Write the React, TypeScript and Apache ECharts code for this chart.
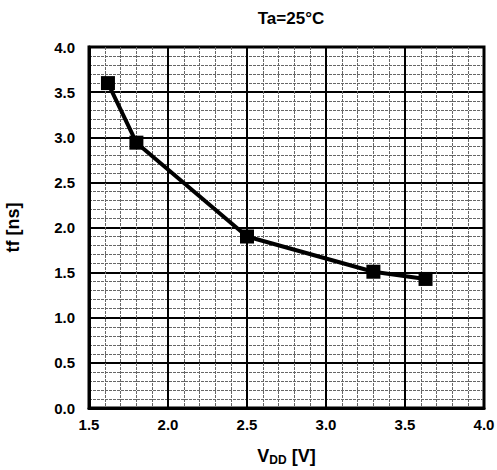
import React, { useEffect, useRef } from "react";
import * as echarts from "echarts";

const vdd = [1.62, 1.8, 2.5, 3.3, 3.63];
const tf = [3.6, 2.94, 1.9, 1.51, 1.43];
const titleText = "Ta=25°C";
const yName = "tf [ns]";

export default function App() {
  const ref = useRef<HTMLDivElement>(null);
  useEffect(() => {
    if (!ref.current) return;
    const chart = echarts.init(ref.current, null, { renderer: "svg" });
    const font = "'Liberation Sans', Arial, sans-serif";
    chart.setOption({
      animation: false,
      backgroundColor: "#fff",
      title: {
        text: titleText,
        left: 286,
        top: 5,
        textAlign: "center",
        textStyle: { fontFamily: font, fontWeight: "bold", fontSize: 17, color: "#000" },
      },
      grid: {
        left: 89,
        top: 47,
        right: 13,
        bottom: 62,
        containLabel: false,
        outerBoundsMode: "none",
        show: true,
        borderColor: "#000",
        borderWidth: 3,
        backgroundColor: "#fff",
      },
      xAxis: {
        type: "value",
        min: 1.5,
        max: 4.0,
        interval: 0.5,
        axisLine: { show: true, lineStyle: { color: "#000", width: 3 } },
        axisTick: { show: false },
        axisLabel: {
          margin: 9,
          fontFamily: font,
          fontWeight: "bold",
          fontSize: 15,
          color: "#000",
          formatter: (v: number) => v.toFixed(1),
        },
        splitLine: { show: true, lineStyle: { color: "#000", width: 2 } },
        minorTick: { show: false, splitNumber: 5 },
        minorSplitLine: { show: true, lineStyle: { color: "#666", width: 1, type: [3, 1] } },
        name: "{v|V}{s|DD}{v| [V]}",
        nameLocation: "middle",
        nameGap: 37,
        nameTextStyle: {
          rich: {
            v: { fontFamily: font, fontWeight: "bold", fontSize: 18, color: "#000" },
            s: { fontFamily: font, fontWeight: "bold", fontSize: 12, color: "#000", padding: [9, 0, 0, 0] },
          },
        },
      },
      yAxis: {
        type: "value",
        min: 0,
        max: 4.0,
        interval: 0.5,
        axisLine: { show: true, lineStyle: { color: "#000", width: 3 } },
        axisTick: { show: false },
        axisLabel: {
          margin: 14,
          fontFamily: font,
          fontWeight: "bold",
          fontSize: 15,
          color: "#000",
          formatter: (v: number) => v.toFixed(1),
        },
        splitLine: { show: true, lineStyle: { color: "#000", width: 2 } },
        minorTick: { show: false, splitNumber: 5 },
        minorSplitLine: { show: true, lineStyle: { color: "#666", width: 1, type: [3, 1] } },
        name: yName,
        nameLocation: "middle",
        nameGap: 67,
        nameTextStyle: { fontFamily: font, fontWeight: "bold", fontSize: 18, color: "#000" },
      },
      series: [
        {
          type: "line",
          data: vdd.map((x, i) => [x, tf[i]]),
          symbol: "rect",
          symbolSize: 14,
          itemStyle: { color: "#000" },
          lineStyle: { color: "#000", width: 4 },
          z: 5,
        },
      ],
    });
    return () => chart.dispose();
  }, []);
  return (
    <div
      ref={ref}
      style={{ position: "fixed", left: 0, top: 0, width: 497, height: 470 }}
    />
  );
}
